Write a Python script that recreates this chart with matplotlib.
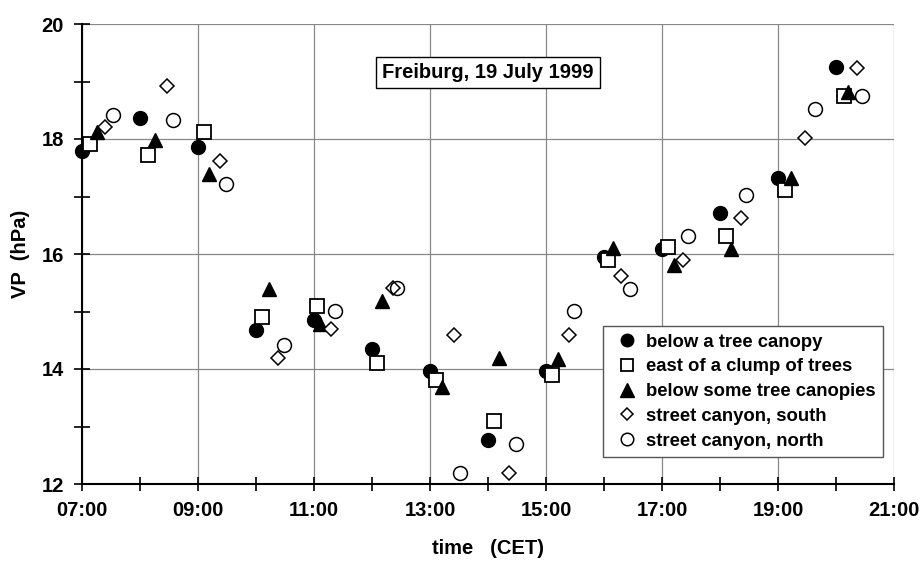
import matplotlib
matplotlib.use("Agg")
import matplotlib.pyplot as plt
from matplotlib.ticker import FixedLocator, MultipleLocator, FuncFormatter

plt.rcParams['font.family'] = ['Liberation Sans', 'DejaVu Sans']
plt.rcParams['font.weight'] = 'bold'

# decimal hours (CET) and vapour pressure (hPa)
labels = ["below a tree canopy", "east of a clump of trees", "below some tree canopies",
          "street canyon, south", "street canyon, north"]
x_ticks = [7, 9, 11, 13, 15, 17, 19, 21]

t_canopy = [7.0, 8.0, 9.0, 10.0, 11.0, 12.0, 13.0, 14.0, 15.0, 16.0, 17.0, 18.0, 19.0, 20.0]
vp_canopy = [17.79, 18.36, 17.86, 14.68, 14.85, 14.35, 13.97, 12.77, 13.97, 15.95, 16.08, 16.71, 17.32, 19.26]

t_clump = [7.13, 8.13, 9.11, 10.11, 11.05, 12.09, 13.10, 14.10, 15.10, 16.07, 17.11, 18.10, 19.12, 20.13]
vp_clump = [17.91, 17.72, 18.13, 14.91, 15.10, 14.11, 13.81, 13.10, 13.90, 15.90, 16.12, 16.31, 17.11, 18.74]

t_canopies = [7.25, 8.25, 9.19, 10.22, 11.10, 12.18, 13.21, 14.19, 15.20, 16.15, 17.20, 18.19, 19.22, 20.21]
vp_canopies = [18.12, 17.98, 17.39, 15.39, 14.79, 15.19, 13.69, 14.19, 14.17, 16.10, 15.81, 16.08, 17.32, 18.82]

t_south = [7.40, 8.46, 9.38, 10.38, 11.30, 12.37, 13.41, 14.37, 15.39, 16.30, 17.36, 18.36, 19.47, 20.36]
vp_south = [18.21, 18.92, 17.62, 14.20, 14.70, 15.41, 14.60, 12.19, 14.60, 15.62, 15.90, 16.62, 18.02, 19.23]

t_north = [7.54, 8.57, 9.48, 10.48, 11.37, 12.43, 13.51, 14.48, 15.49, 16.45, 17.45, 18.45, 19.63, 20.44]
vp_north = [18.42, 18.33, 17.22, 14.41, 15.01, 15.41, 12.19, 12.69, 15.01, 15.40, 16.32, 17.03, 18.52, 18.74]

fig = plt.figure(figsize=(9.21, 5.62), dpi=100)
ax = fig.add_axes([82/921, 1-484/562, (894-82)/921, (484-24)/562])

kw = dict(ls='none', clip_on=False, zorder=3)
ax.plot(t_canopy, vp_canopy, 'o', color='black', ms=10, label=labels[0], **kw)
ax.plot(t_clump, vp_clump, 's', mfc='white', mec='black', mew=1.3, ms=9.5, label=labels[1], **kw)
ax.plot(t_canopies, vp_canopies, '^', color='black', ms=10.5, label=labels[2], **kw)
ax.plot(t_south, vp_south, 'D', mfc='white', mec='black', mew=1.1, ms=7, label=labels[3], **kw)
ax.plot(t_north, vp_north, 'o', mfc='none', mec='black', mew=1.1, ms=10, label=labels[4], **kw)

ax.set_xlim(7, 21)
ax.set_ylim(12, 20)
ax.xaxis.set_major_locator(FixedLocator(x_ticks))
ax.xaxis.set_minor_locator(MultipleLocator(1))
ax.yaxis.set_major_locator(MultipleLocator(2))
ax.yaxis.set_minor_locator(MultipleLocator(1))
ax.xaxis.set_major_formatter(FuncFormatter(lambda v, p: f"{int(round(v)):02d}:00"))
ax.grid(True, which='major', color='#888888', lw=0.9)
ax.set_axisbelow(True)

ax.tick_params(which='both', direction='inout', width=1.2, labelsize=14.5, color='black')
ax.tick_params(axis='y', which='both', length=12, pad=7)
ax.tick_params(axis='x', which='both', length=10, pad=7)
for lab in ax.get_xticklabels() + ax.get_yticklabels():
    lab.set_fontweight('bold')

for side in ['top', 'right']:
    ax.spines[side].set_visible(False)
for side in ['left', 'bottom']:
    ax.spines[side].set_linewidth(1.5)

ax.set_xlabel("time   (CET)", fontsize=14.5, fontweight='bold', labelpad=14)
ax.set_ylabel("VP  (hPa)", fontsize=14.5, fontweight='bold', labelpad=8)

ax.text(14.0, 19.15, "Freiburg, 19 July 1999", ha='center', va='center', fontsize=14.5,
        fontweight='bold', bbox=dict(boxstyle='square,pad=0.3', fc='white', ec='black', lw=1.0), zorder=4)

leg = ax.legend(loc='lower right', bbox_to_anchor=(0.9865, 0.0587), fontsize=13.3, frameon=True,
                fancybox=False, edgecolor='#555555', framealpha=1, handletextpad=0.15,
                handlelength=1.8, labelspacing=0.42, borderpad=0.4, markerscale=0.9,
                borderaxespad=0)
leg.get_frame().set_linewidth(1.0)
for txt in leg.get_texts():
    txt.set_fontweight('bold')
leg.set_zorder(5)

fig.savefig("out.png", dpi=100)
